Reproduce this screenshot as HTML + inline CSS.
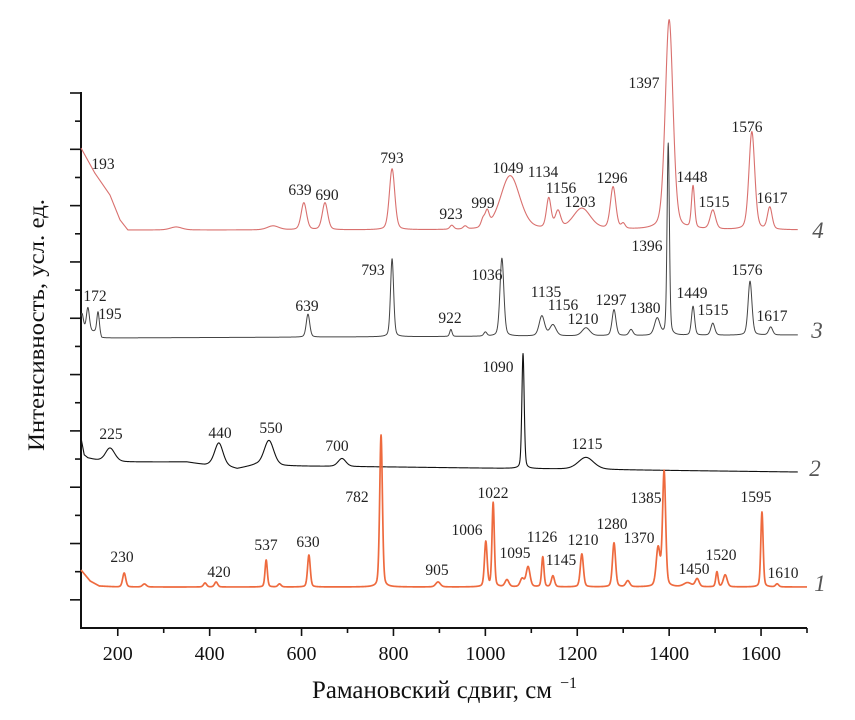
<!DOCTYPE html>
<html><head><meta charset="utf-8"><style>
html,body{margin:0;padding:0;background:#fff;}
svg{display:block;font-family:"Liberation Serif",serif;}
.pl{font-size:15.5px;fill:#222;text-anchor:middle;}
.tk{font-size:20px;fill:#111;text-anchor:middle;}
.sn{font-size:23px;font-style:italic;fill:#555;text-anchor:middle;}
</style></head><body>
<svg id="chart" width="855" height="720" viewBox="0 0 855 720">
<rect width="855" height="720" fill="#fff"/>
<g id="axes"></g>
<g id="series"></g>
<g>
<text class="pl" x="103" y="169">193</text><text class="pl" x="300" y="195">639</text><text class="pl" x="327" y="200">690</text><text class="pl" x="392" y="163">793</text>
<text class="pl" x="451" y="219">923</text><text class="pl" x="483" y="208">999</text><text class="pl" x="508" y="173">1049</text><text class="pl" x="543" y="177">1134</text><text class="pl" x="561" y="193">1156</text><text class="pl" x="580" y="207">1203</text><text class="pl" x="612" y="183">1296</text><text class="pl" x="644" y="88">1397</text><text class="pl" x="692" y="182">1448</text><text class="pl" x="714" y="207">1515</text><text class="pl" x="747" y="132">1576</text><text class="pl" x="772" y="203">1617</text>
<text class="pl" x="95" y="301">172</text><text class="pl" x="110" y="319">195</text><text class="pl" x="307" y="311">639</text><text class="pl" x="373" y="275">793</text><text class="pl" x="450" y="323">922</text>
<text class="pl" x="487" y="280">1036</text><text class="pl" x="546" y="297">1135</text><text class="pl" x="563" y="310">1156</text><text class="pl" x="583" y="324">1210</text><text class="pl" x="611" y="305">1297</text><text class="pl" x="645" y="313">1380</text><text class="pl" x="647" y="251">1396</text><text class="pl" x="692" y="298">1449</text><text class="pl" x="713" y="315">1515</text><text class="pl" x="747" y="275">1576</text><text class="pl" x="772" y="321">1617</text>
<text class="pl" x="111" y="439">225</text><text class="pl" x="220" y="438">440</text><text class="pl" x="271" y="433">550</text><text class="pl" x="337" y="451">700</text><text class="pl" x="498" y="372">1090</text><text class="pl" x="587" y="449">1215</text>
<text class="pl" x="122" y="562">230</text><text class="pl" x="219" y="577">420</text><text class="pl" x="266" y="550">537</text><text class="pl" x="308" y="547">630</text><text class="pl" x="357" y="502">782</text><text class="pl" x="437" y="575">905</text>
<text class="pl" x="467" y="535">1006</text><text class="pl" x="493" y="498">1022</text><text class="pl" x="515" y="558">1095</text><text class="pl" x="542" y="542">1126</text><text class="pl" x="561" y="565">1145</text><text class="pl" x="583" y="545">1210</text><text class="pl" x="612" y="529">1280</text><text class="pl" x="639" y="543">1370</text><text class="pl" x="646" y="503">1385</text><text class="pl" x="694" y="574">1450</text><text class="pl" x="721" y="560">1520</text><text class="pl" x="756" y="502">1595</text><text class="pl" x="783" y="578">1610</text>
</g>
<g>
<text class="sn" x="818" y="238">4</text>
<text class="sn" x="817" y="338">3</text>
<text class="sn" x="815" y="476">2</text>
<text class="sn" x="820" y="591">1</text>
</g>
<text x="312" y="698" font-size="25" fill="#111" textLength="240" lengthAdjust="spacingAndGlyphs">Рамановский сдвиг, см</text>
<text x="560" y="688" font-size="16" fill="#111">−1</text>
<text transform="translate(44,325) rotate(-90)" font-size="23" text-anchor="middle" fill="#111" textLength="252" lengthAdjust="spacingAndGlyphs">Интенсивность, усл. ед.</text>
</svg>
<script>
const xTicks = [200,300,400,500,600,700,800,900,1000,1100,1200,1300,1400,1500,1600,1700];
const xTickLabels = ["200","","400","","600","","800","","1000","","1200","","1400","","1600",""];
const yTickCount = 19;

// series 4
const s4BaseX = [120,150,183,205,222,1680];
const s4BaseY = [480,455,433,408,398,398];
const s4PeakPos = [327,538,605,651,797,927,956,995,1004,1054,1138,1158,1210,1278,1300,1400,1452,1495,1580,1619];
const s4PeakH =   [3,4,27,27,61,4,3,8,14,54,30,17,21,42,5,210,42,19,98,22];
const s4PeakW =   [30,30,14,14,14,10,10,10,10,50,12,14,45,14,10,20,8,14,15,12];
// series 3
const s3BaseX = [120,160,165,1680];
const s3BaseY = [296,296,290,293];
const s3PeakPos = [122,135,157,614,797,925,1000,1036,1123,1147,1219,1280,1317,1374,1398,1452,1495,1576,1621];
const s3PeakH =   [18,24,20,23,78,7,4,78,20,11,8,26,6,17,192,29,12,54,8];
const s3PeakW =   [8,8,6,9,8,6,8,10,14,16,20,10,10,14,6,8,10,10,10];
// series 2
const s2BaseX = [120,127,135,170,350,390,420,460,500,560,800,1680];
const s2BaseY = [190,173,170,166,166,163,163,159,163,162,161,156];
const s2PeakPos = [183,420,529,688,1082,1219];
const s2PeakH =   [14,22,25,8,115,12];
const s2PeakW =   [25,22,25,20,6,40];
// series 1
const s1BaseX = [120,140,160,200,1700];
const s1BaseY = [58,47,42,41,41];
const s1PeakPos = [214,258,390,414,523,552,616,773,897,1001,1017,1047,1080,1093,1125,1147,1210,1280,1310,1376,1389,1440,1461,1504,1522,1602,1635];
const s1PeakH =   [14,3,4,5,27,3,32,152,5,45,84,7,8,20,30,11,33,44,6,38,115,4,8,15,12,75,3];
const s1PeakW =   [8,10,8,8,6,8,7,7,12,7,6,10,10,10,6,8,8,8,10,10,8,20,10,6,10,6,8];

const X0=81, X1=807, V0=120, V1=1700;
function xScale(v){ return X0 + (v - V0) * (X1 - X0) / (V1 - V0); }
function yScale(v){ return 628 - v; }
const NS="http://www.w3.org/2000/svg";

function interp(xs, ys, v){
  if (v <= xs[0]) return ys[0];
  for (let i=1;i<xs.length;i++){ if (v <= xs[i]) { const t=(v-xs[i-1])/(xs[i]-xs[i-1]); return ys[i-1]+t*(ys[i]-ys[i-1]); } }
  return ys[ys.length-1];
}
function spectrum(bx,by,pp,ph,pw,vEnd){
  let d="";
  for (let v=V0; v<=vEnd; v+=0.5){
    let y=interp(bx,by,v);
    for (let k=0;k<pp.length;k++){
      const u=(v-pp[k])/(pw[k]/2);
      y += ph[k]*(0.7*Math.exp(-0.693*u*u) + 0.3/(1+u*u));
    }
    d += (d?"L":"M") + xScale(v).toFixed(2) + "," + yScale(y).toFixed(2);
  }
  return d;
}
const seriesG=document.getElementById("series");
function addSeries(name,d,color,w){
  const p=document.createElementNS(NS,"path");
  p.setAttribute("d",d); p.setAttribute("fill","none"); p.setAttribute("stroke",color); p.setAttribute("stroke-width",w); p.setAttribute("stroke-linejoin","round");
  
  
  seriesG.appendChild(p);
}
addSeries("spectrum-4", spectrum(s4BaseX,s4BaseY,s4PeakPos,s4PeakH,s4PeakW,1680), "#d9706e", 1.1);
addSeries("spectrum-3", spectrum(s3BaseX,s3BaseY,s3PeakPos,s3PeakH,s3PeakW,1680), "#444", 1);
addSeries("spectrum-2", spectrum(s2BaseX,s2BaseY,s2PeakPos,s2PeakH,s2PeakW,1680), "#111", 1.1);
addSeries("spectrum-1", spectrum(s1BaseX,s1BaseY,s1PeakPos,s1PeakH,s1PeakW,1700), "#ee6a3e", 1.7);

const axesG=document.getElementById("axes");
function line(x1,y1,x2,y2,w){
  const l=document.createElementNS(NS,"line");
  l.setAttribute("x1",x1);l.setAttribute("y1",y1);l.setAttribute("x2",x2);l.setAttribute("y2",y2);
  l.setAttribute("stroke","#111");l.setAttribute("stroke-width",w);
  axesG.appendChild(l); return l;
}
const ya=line(X0,92,X0,629,2);


const xa=line(X0-1,628,X1,628,2);


for (let i=0;i<yTickCount;i++){
  const y=93+i*(535/19);
  const t=line(i%2===0?70:75,y,X0,y,1.6);
  
  
}
xTicks.forEach((v,i)=>{
  const x=xScale(v);
  const t=line(x,628,x,xTickLabels[i]?636:633,1.6);
  
  
  if (xTickLabels[i]){
    const tx=document.createElementNS(NS,"text");
    tx.setAttribute("x",x); tx.setAttribute("y",660); tx.setAttribute("class","tk");
    tx.textContent=xTickLabels[i];
    
    
    axesG.appendChild(tx);
  }
});
</script>
</body></html>
